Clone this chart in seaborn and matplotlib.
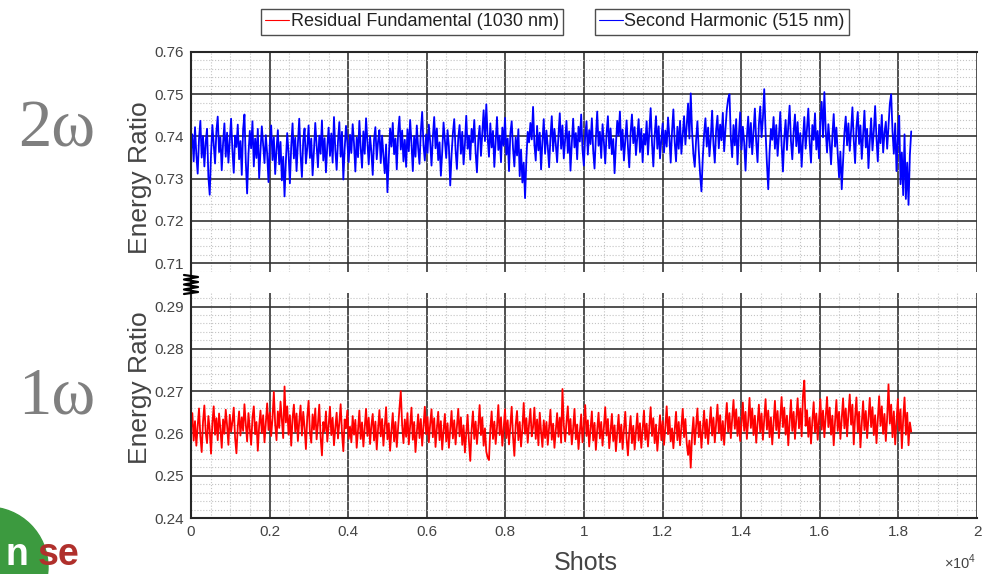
import numpy as np
import matplotlib
matplotlib.use("Agg")
import matplotlib.pyplot as plt
from matplotlib.lines import Line2D
from matplotlib.patches import Circle
from matplotlib.ticker import MultipleLocator, FixedLocator, FixedFormatter
import seaborn as sns

# Energy ratio per shot (sampled every SHOT_STEP shots)
SHOT_STEP = 34

energy_2w = [
    0.7368, 0.7405, 0.7341, 0.7422, 0.7356, 0.7312, 0.7394, 0.7437, 0.7350, 0.7401, 0.7329, 0.7386, 0.7418, 0.7305, 0.7262, 0.7359, 0.7427, 0.7381, 0.7336, 0.7412,
    0.7447, 0.7363, 0.7398, 0.7320, 0.7384, 0.7431, 0.7352, 0.7409, 0.7338, 0.7391, 0.7442, 0.7367, 0.7314, 0.7402, 0.7375, 0.7428, 0.7346, 0.7389, 0.7309, 0.7417,
    0.7452, 0.7341, 0.7265, 0.7358, 0.7413, 0.7372, 0.7436, 0.7329, 0.7395, 0.7349, 0.7418, 0.7301, 0.7366, 0.7424, 0.7381, 0.7337, 0.7403, 0.7359, 0.7292, 0.7385,
    0.7426, 0.7344, 0.7398, 0.7311, 0.7369, 0.7415, 0.7334, 0.7387, 0.7296, 0.7352, 0.7258, 0.7341, 0.7408, 0.7362, 0.7289, 0.7376, 0.7431, 0.7348, 0.7397, 0.7318,
    0.7384, 0.7442, 0.7357, 0.7304, 0.7391, 0.7419, 0.7336, 0.7373, 0.7426, 0.7349, 0.7395, 0.7308, 0.7365, 0.7432, 0.7381, 0.7327, 0.7402, 0.7359, 0.7438, 0.7343,
    0.7396, 0.7315, 0.7378, 0.7421, 0.7354, 0.7407, 0.7338, 0.7446, 0.7369, 0.7321, 0.7389, 0.7434, 0.7352, 0.7411, 0.7298, 0.7371, 0.7425, 0.7386, 0.7339, 0.7404,
    0.7361, 0.7429, 0.7383, 0.7317, 0.7398, 0.7351, 0.7437, 0.7372, 0.7326, 0.7412, 0.7359, 0.7443, 0.7387, 0.7334, 0.7401, 0.7364, 0.7309, 0.7393, 0.7422, 0.7346,
    0.7388, 0.7415, 0.7337, 0.7402, 0.7355, 0.7313, 0.7381, 0.7268, 0.7347, 0.7419, 0.7376, 0.7432, 0.7358, 0.7395, 0.7322, 0.7408, 0.7447, 0.7369, 0.7414, 0.7341,
    0.7392, 0.7328, 0.7417, 0.7365, 0.7439, 0.7384, 0.7318, 0.7401, 0.7352, 0.7426, 0.7373, 0.7335, 0.7412, 0.7458, 0.7379, 0.7343, 0.7405, 0.7361, 0.7428, 0.7387,
    0.7331, 0.7398, 0.7446, 0.7372, 0.7419, 0.7344, 0.7386, 0.7307, 0.7363, 0.7433, 0.7391, 0.7349, 0.7415, 0.7376, 0.7284, 0.7357, 0.7408, 0.7441, 0.7368, 0.7323,
    0.7396, 0.7427, 0.7359, 0.7411, 0.7334, 0.7382, 0.7449, 0.7371, 0.7402, 0.7345, 0.7418, 0.7386, 0.7439, 0.7362, 0.7315, 0.7393, 0.7425, 0.7354, 0.7408, 0.7462,
    0.7389, 0.7476, 0.7397, 0.7352, 0.7431, 0.7374, 0.7413, 0.7328, 0.7385, 0.7446, 0.7368, 0.7402, 0.7339, 0.7421, 0.7378, 0.7444, 0.7357, 0.7395, 0.7318, 0.7407,
    0.7436, 0.7372, 0.7329, 0.7398, 0.7355, 0.7417, 0.7306, 0.7369, 0.7291, 0.7338, 0.7254, 0.7347, 0.7411, 0.7386, 0.7432, 0.7393, 0.7470, 0.7381, 0.7343, 0.7425,
    0.7367, 0.7409, 0.7322, 0.7388, 0.7441, 0.7359, 0.7414, 0.7376, 0.7327, 0.7397, 0.7448, 0.7365, 0.7418, 0.7382, 0.7339, 0.7403, 0.7455, 0.7371, 0.7426, 0.7348,
    0.7394, 0.7437, 0.7361, 0.7412, 0.7319, 0.7385, 0.7442, 0.7374, 0.7408, 0.7346, 0.7423, 0.7388, 0.7452, 0.7369, 0.7331, 0.7401, 0.7436, 0.7357, 0.7415, 0.7382,
    0.7443, 0.7366, 0.7324, 0.7398, 0.7459, 0.7378, 0.7411, 0.7349, 0.7429, 0.7387, 0.7336, 0.7407, 0.7448, 0.7372, 0.7419, 0.7358, 0.7394, 0.7313, 0.7381, 0.7437,
    0.7402, 0.7459, 0.7368, 0.7416, 0.7343, 0.7391, 0.7438, 0.7375, 0.7327, 0.7409, 0.7452, 0.7384, 0.7422, 0.7356, 0.7397, 0.7441, 0.7363, 0.7418, 0.7339, 0.7406,
    0.7381, 0.7436, 0.7357, 0.7412, 0.7467, 0.7385, 0.7329, 0.7403, 0.7448, 0.7371, 0.7424, 0.7348, 0.7393, 0.7431, 0.7362, 0.7414, 0.7376, 0.7445, 0.7399, 0.7338,
    0.7412, 0.7464, 0.7386, 0.7341, 0.7423, 0.7371, 0.7437, 0.7359, 0.7402, 0.7448, 0.7381, 0.7426, 0.7478, 0.7395, 0.7502, 0.7412, 0.7357, 0.7328, 0.7391, 0.7436,
    0.7367, 0.7311, 0.7270, 0.7349, 0.7406, 0.7443, 0.7376, 0.7421, 0.7353, 0.7397, 0.7461, 0.7382, 0.7338, 0.7415, 0.7449, 0.7372, 0.7428, 0.7391, 0.7456, 0.7365,
    0.7418, 0.7463, 0.7489, 0.7500, 0.7396, 0.7351, 0.7427, 0.7379, 0.7441, 0.7334, 0.7402, 0.7457, 0.7369, 0.7423, 0.7386, 0.7319, 0.7398, 0.7447, 0.7374, 0.7432,
    0.7358, 0.7411, 0.7466, 0.7387, 0.7339, 0.7429, 0.7471, 0.7398, 0.7443, 0.7512, 0.7412, 0.7337, 0.7275, 0.7363, 0.7418, 0.7392, 0.7446, 0.7371, 0.7427, 0.7354,
    0.7402, 0.7458, 0.7381, 0.7317, 0.7396, 0.7439, 0.7368, 0.7425, 0.7473, 0.7389, 0.7346, 0.7411, 0.7452, 0.7377, 0.7434, 0.7361, 0.7408, 0.7328, 0.7393, 0.7446,
    0.7371, 0.7419, 0.7466, 0.7384, 0.7338, 0.7427, 0.7392, 0.7455, 0.7369, 0.7413, 0.7348, 0.7437, 0.7482, 0.7398, 0.7505, 0.7416, 0.7362, 0.7429, 0.7387, 0.7334,
    0.7401, 0.7453, 0.7376, 0.7421, 0.7359, 0.7303, 0.7364, 0.7275, 0.7342, 0.7408, 0.7447, 0.7379, 0.7431, 0.7366, 0.7414, 0.7469, 0.7391, 0.7337, 0.7422, 0.7458,
    0.7382, 0.7426, 0.7347, 0.7403, 0.7461, 0.7374, 0.7418, 0.7325, 0.7389, 0.7443, 0.7367, 0.7412, 0.7472, 0.7395, 0.7341, 0.7428, 0.7384, 0.7451, 0.7362, 0.7409,
    0.7435, 0.7371, 0.7426, 0.7478, 0.7500, 0.7412, 0.7359, 0.7431, 0.7318, 0.7394, 0.7449, 0.7287, 0.7362, 0.7261, 0.7405, 0.7252, 0.7338, 0.7238, 0.7356, 0.7412,
]

energy_1w = [
    0.2612, 0.2648, 0.2583, 0.2629, 0.2571, 0.2617, 0.2659, 0.2594, 0.2556, 0.2628, 0.2666, 0.2603, 0.2577, 0.2641, 0.2609, 0.2552, 0.2625, 0.2664, 0.2597, 0.2636,
    0.2584, 0.2647, 0.2611, 0.2566, 0.2633, 0.2599, 0.2656, 0.2619, 0.2573, 0.2644, 0.2604, 0.2628, 0.2661, 0.2589, 0.2553, 0.2616, 0.2652, 0.2595, 0.2638, 0.2606,
    0.2669, 0.2622, 0.2581, 0.2648, 0.2612, 0.2573, 0.2637, 0.2664, 0.2598, 0.2627, 0.2559, 0.2618, 0.2654, 0.2601, 0.2643, 0.2579, 0.2625, 0.2671, 0.2608, 0.2649,
    0.2594, 0.2636, 0.2698, 0.2621, 0.2584, 0.2652, 0.2613, 0.2675, 0.2632, 0.2589, 0.2711, 0.2626, 0.2664, 0.2597, 0.2643, 0.2571, 0.2635, 0.2668, 0.2604, 0.2647,
    0.2582, 0.2629, 0.2666, 0.2595, 0.2651, 0.2614, 0.2563, 0.2638, 0.2677, 0.2602, 0.2578, 0.2645, 0.2609, 0.2659, 0.2586, 0.2623, 0.2668, 0.2591, 0.2548, 0.2627,
    0.2605, 0.2652, 0.2581, 0.2618, 0.2663, 0.2596, 0.2637, 0.2572, 0.2614, 0.2649, 0.2588, 0.2625, 0.2669, 0.2601, 0.2558, 0.2633, 0.2612, 0.2654, 0.2587, 0.2616,
    0.2579, 0.2641, 0.2597, 0.2632, 0.2566, 0.2608, 0.2654, 0.2587, 0.2626, 0.2569, 0.2613, 0.2658, 0.2594, 0.2637, 0.2575, 0.2619, 0.2646, 0.2583, 0.2628, 0.2562,
    0.2611, 0.2655, 0.2593, 0.2634, 0.2571, 0.2617, 0.2662, 0.2586, 0.2624, 0.2559, 0.2606, 0.2648, 0.2581, 0.2627, 0.2568, 0.2615, 0.2659, 0.2700, 0.2621, 0.2577,
    0.2633, 0.2592, 0.2648, 0.2574, 0.2619, 0.2661, 0.2585, 0.2627, 0.2556, 0.2603, 0.2645, 0.2589, 0.2634, 0.2571, 0.2616, 0.2663, 0.2598, 0.2639, 0.2579, 0.2622,
    0.2657, 0.2591, 0.2636, 0.2568, 0.2612, 0.2651, 0.2584, 0.2629, 0.2562, 0.2607, 0.2646, 0.2581, 0.2624, 0.2566, 0.2611, 0.2653, 0.2588, 0.2631, 0.2574, 0.2615,
    0.2658, 0.2593, 0.2638, 0.2573, 0.2619, 0.2555, 0.2601, 0.2644, 0.2582, 0.2535, 0.2609, 0.2652, 0.2587, 0.2628, 0.2575, 0.2614, 0.2667, 0.2596, 0.2638, 0.2571,
    0.2612, 0.2557, 0.2543, 0.2537, 0.2609, 0.2652, 0.2587, 0.2628, 0.2575, 0.2614, 0.2667, 0.2596, 0.2638, 0.2571, 0.2612, 0.2657, 0.2589, 0.2631, 0.2574, 0.2618,
    0.2663, 0.2592, 0.2547, 0.2621, 0.2653, 0.2584, 0.2627, 0.2569, 0.2611, 0.2672, 0.2599, 0.2636, 0.2578, 0.2622, 0.2658, 0.2593, 0.2615, 0.2661, 0.2587, 0.2633,
    0.2572, 0.2649, 0.2604, 0.2568, 0.2631, 0.2589, 0.2627, 0.2573, 0.2614, 0.2656, 0.2585, 0.2623, 0.2566, 0.2608, 0.2648, 0.2592, 0.2637, 0.2578, 0.2705, 0.2619,
    0.2581, 0.2626, 0.2664, 0.2597, 0.2634, 0.2574, 0.2612, 0.2658, 0.2586, 0.2621, 0.2563, 0.2605, 0.2645, 0.2579, 0.2618, 0.2667, 0.2594, 0.2631, 0.2569, 0.2612,
    0.2652, 0.2583, 0.2625, 0.2561, 0.2608, 0.2649, 0.2588, 0.2627, 0.2571, 0.2614, 0.2662, 0.2595, 0.2634, 0.2565, 0.2606, 0.2646, 0.2582, 0.2619, 0.2558, 0.2603,
    0.2644, 0.2579, 0.2621, 0.2563, 0.2609, 0.2651, 0.2587, 0.2548, 0.2604, 0.2641, 0.2577, 0.2618, 0.2562, 0.2606, 0.2647, 0.2583, 0.2624, 0.2566, 0.2611, 0.2654,
    0.2585, 0.2623, 0.2569, 0.2617, 0.2662, 0.2594, 0.2636, 0.2577, 0.2621, 0.2559, 0.2601, 0.2643, 0.2584, 0.2629, 0.2573, 0.2616, 0.2664, 0.2598, 0.2639, 0.2581,
    0.2612, 0.2565, 0.2608, 0.2651, 0.2584, 0.2627, 0.2572, 0.2614, 0.2658, 0.2591, 0.2634, 0.2576, 0.2549, 0.2583, 0.2519, 0.2597, 0.2638, 0.2574, 0.2615, 0.2659,
    0.2591, 0.2628, 0.2566, 0.2611, 0.2654, 0.2589, 0.2633, 0.2575, 0.2618, 0.2662, 0.2595, 0.2637, 0.2579, 0.2623, 0.2668, 0.2601, 0.2643, 0.2584, 0.2629, 0.2573,
    0.2627, 0.2672, 0.2604, 0.2648, 0.2589, 0.2633, 0.2679, 0.2611, 0.2657, 0.2594, 0.2638, 0.2582, 0.2625, 0.2673, 0.2606, 0.2651, 0.2587, 0.2631, 0.2684, 0.2613,
    0.2659, 0.2596, 0.2642, 0.2578, 0.2624, 0.2668, 0.2603, 0.2647, 0.2585, 0.2632, 0.2681, 0.2609, 0.2654, 0.2591, 0.2638, 0.2574, 0.2626, 0.2677, 0.2608, 0.2653,
    0.2589, 0.2635, 0.2686, 0.2615, 0.2661, 0.2597, 0.2642, 0.2572, 0.2628, 0.2679, 0.2606, 0.2651, 0.2587, 0.2634, 0.2683, 0.2612, 0.2659, 0.2593, 0.2689, 0.2725,
    0.2618, 0.2655, 0.2592, 0.2637, 0.2576, 0.2629, 0.2674, 0.2603, 0.2647, 0.2585, 0.2632, 0.2681, 0.2609, 0.2654, 0.2591, 0.2638, 0.2686, 0.2615, 0.2661, 0.2597,
    0.2642, 0.2572, 0.2628, 0.2679, 0.2606, 0.2651, 0.2587, 0.2634, 0.2683, 0.2612, 0.2659, 0.2593, 0.2645, 0.2692, 0.2621, 0.2668, 0.2574, 0.2639, 0.2685, 0.2603,
    0.2651, 0.2567, 0.2624, 0.2676, 0.2608, 0.2653, 0.2589, 0.2637, 0.2684, 0.2615, 0.2662, 0.2596, 0.2643, 0.2577, 0.2631, 0.2688, 0.2618, 0.2664, 0.2599, 0.2646,
    0.2582, 0.2637, 0.2716, 0.2623, 0.2668, 0.2591, 0.2652, 0.2574, 0.2629, 0.2681, 0.2606, 0.2657, 0.2565, 0.2634, 0.2685, 0.2597, 0.2649, 0.2572, 0.2626, 0.2604,
]

x_ticks = [0, 2000, 4000, 6000, 8000, 10000, 12000, 14000, 16000, 18000, 20000]
x_tick_labels = ["0", "0.2", "0.4", "0.6", "0.8", "1", "1.2", "1.4", "1.6", "1.8", "2"]
y_ticks_2w = [0.71, 0.72, 0.73, 0.74, 0.75, 0.76]
y_ticks_1w = [0.24, 0.25, 0.26, 0.27, 0.28, 0.29]

label_1w = "Residual Fundamental (1030 nm)"
label_2w = "Second Harmonic (515 nm)"

sns.set_theme(style="white")
plt.rcParams["font.family"] = ["Liberation Sans", "DejaVu Sans"]
plt.rcParams["mathtext.fontset"] = "custom"
plt.rcParams["mathtext.rm"] = "Liberation Sans"

W, H = 983, 574
fig = plt.figure(figsize=(W / 100, H / 100), dpi=100)
fig.patch.set_facecolor("white")


def frac(x0, y0, x1, y1):
    """Pixel box (left, top, right, bottom) -> figure fraction rect."""
    return [x0 / W, 1 - y1 / H, (x1 - x0) / W, (y1 - y0) / H]


AX_L, AX_R = 191, 977
ax_top = fig.add_axes(frac(AX_L, 52, AX_R, 272))
ax_bot = fig.add_axes(frac(AX_L, 293, AX_R, 518))

shots_2w = np.arange(len(energy_2w)) * SHOT_STEP
shots_1w = np.arange(len(energy_1w)) * SHOT_STEP

sns.lineplot(x=shots_2w, y=energy_2w, ax=ax_top, color="#0000ff",
             linewidth=1.3, estimator=None, legend=False)
sns.lineplot(x=shots_1w, y=energy_1w, ax=ax_bot, color="#ff0000",
             linewidth=1.3, estimator=None, legend=False)

SPINE = "#262626"
for ax, ylim, yt in ((ax_top, (0.7079, 0.76), y_ticks_2w),
                     (ax_bot, (0.24, 0.2932), y_ticks_1w)):
    ax.set_xlim(0, 20000)
    ax.set_ylim(*ylim)
    ax.xaxis.set_major_locator(FixedLocator(x_ticks))
    ax.xaxis.set_minor_locator(MultipleLocator(500))
    ax.yaxis.set_major_locator(FixedLocator(yt))
    ax.yaxis.set_major_formatter(FixedFormatter([f"{v:.2f}" for v in yt]))
    ax.yaxis.set_minor_locator(MultipleLocator(0.002))
    ax.grid(which="minor", color="#c4c4c4", linestyle=":", linewidth=0.8)
    ax.grid(which="major", color="#333333", linestyle="-", linewidth=1.2)
    ax.set_axisbelow(True)
    ax.tick_params(which="both", length=0, labelsize=11, labelcolor="#444444", pad=5)
    ax.set_facecolor("white")
    for s in ax.spines.values():
        s.set_color(SPINE)
        s.set_linewidth(1.5)
    ax.spines["right"].set_visible(False)
    ax.set_ylabel("Energy Ratio", fontsize=19, color="#444444")
    ax.set_xlabel("")

ax_top.spines["bottom"].set_visible(False)
ax_bot.spines["top"].set_visible(False)
ax_top.tick_params(axis="x", labelbottom=False)
ax_bot.xaxis.set_major_formatter(FixedFormatter(x_tick_labels))
ax_bot.set_xlabel("Shots", fontsize=18, color="#444444")
ax_bot.xaxis.set_label_coords(0.5025, -0.145)
ax_top.yaxis.set_label_coords(-0.049, 0.43)
ax_bot.yaxis.set_label_coords(-0.049, 0.58)

# overlay in pixel coordinates for decorations
ov = fig.add_axes([0, 0, 1, 1], zorder=5)
ov.set_xlim(0, W)
ov.set_ylim(H, 0)
ov.axis("off")
ov.patch.set_alpha(0)

# continuous left spine through the axis break and the break mark
ov.plot([AX_L, AX_L], [270, 295], color=SPINE, linewidth=1.5, solid_capstyle="butt")
zig_x = [184, 198, 184, 198, 184, 198, 184, 198, 184]
zig_y = [275, 277, 279.5, 282, 284.5, 287, 289.5, 292, 294]
ov.plot(zig_x, zig_y, color="black", linewidth=1.6)

# ×10^4 multiplier
ov.text(944, 562, r"$\times10^{4}$", fontsize=10.5, color="#444444", va="center", ha="left")

# harmonic order labels
serif = ["Liberation Serif", "DejaVu Serif"]
ov.text(57, 130, "2ω", fontsize=48, color="#7f7f7f", ha="center", va="center", family=serif)
ov.text(57, 397, "1ω", fontsize=48, color="#7f7f7f", ha="center", va="center", family=serif)

# corner logo
ov.add_patch(Circle((-12, 567), 60, color="#3c9a3f", clip_on=True))
ov.text(6, 573, "n", fontsize=27, color="white", fontweight="bold", ha="left", va="bottom")
ov.text(38, 573, "se", fontsize=27, color="#b0302c", fontweight="bold", ha="left", va="bottom")

# legends (two separate boxes)
leg_kw = dict(fontsize=13, frameon=True, fancybox=False, handlelength=1.3,
              handletextpad=0.1, borderpad=0.25, borderaxespad=0, labelcolor="#222222")
h1 = [Line2D([], [], color="#ff0000", linewidth=0.8)]
h2 = [Line2D([], [], color="#0000ff", linewidth=0.8)]
leg1 = fig.legend(h1, [label_1w], loc="center", bbox_to_anchor=(412 / W, 1 - 22 / H), **leg_kw)
leg2 = fig.legend(h2, [label_2w], loc="center", bbox_to_anchor=(722 / W, 1 - 22 / H), **leg_kw)
for lg in (leg1, leg2):
    lg.get_frame().set_edgecolor("#222222")
    lg.get_frame().set_linewidth(1.0)

fig.savefig("out.png", dpi=100, facecolor="white")
